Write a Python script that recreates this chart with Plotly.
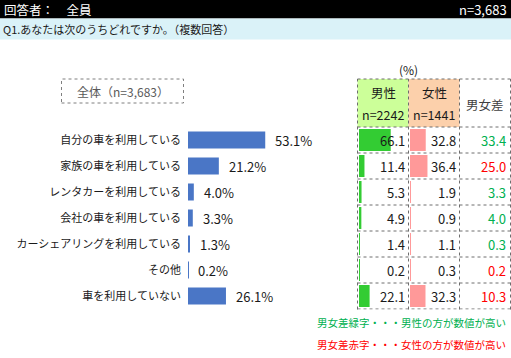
import plotly.graph_objects as go

# ---------------- data ----------------
categories = ["自分の車を利用している", "家族の車を利用している", "レンタカーを利用している",
              "会社の車を利用している", "カーシェアリングを利用している", "その他", "車を利用していない"]
total = [53.1, 21.2, 4.0, 3.3, 1.3, 0.2, 26.1]
male = [66.1, 11.4, 5.3, 4.9, 1.4, 0.2, 22.1]
female = [32.8, 36.4, 1.9, 0.9, 1.1, 0.3, 32.3]
diff = [33.4, 25.0, 3.3, 4.0, 0.3, 0.2, 10.3]
header_left = "回答者：　全員"
header_right = "n=3,683"
question = "Q1.あなたは次のうちどれですか。（複数回答）"
box_label = "全体（n=3,683）"
col_heads = ["男性", "女性", "男女差"]
col_n = ["n=2242", "n=1441"]
note_green = "男女差緑字・・・男性の方が数値が高い"
note_red = "男女差赤字・・・女性の方が数値が高い"

W, H = 511, 358
FONT = "Noto Sans CJK JP"
GREEN_TXT = "#00b050"
RED_TXT = "#ff0000"


def px(x):
    return x / W


def py(y):
    return 1 - y / H


ydom = [py(309.5), py(127)]

fig = go.Figure()
fig.add_trace(go.Bar(y=categories, x=total, orientation="h", width=0.65,
                     marker=dict(color="#4a76c6", line=dict(width=0)),
                     xaxis="x", yaxis="y", hoverinfo="skip"))
fig.add_trace(go.Bar(y=categories, x=male, orientation="h", width=0.84,
                     marker=dict(color="#33cc33", line=dict(width=0)),
                     xaxis="x2", yaxis="y", hoverinfo="skip"))
fig.add_trace(go.Bar(y=categories, x=female, orientation="h", width=0.84,
                     marker=dict(color="#ff9999", line=dict(width=0)),
                     xaxis="x3", yaxis="y", hoverinfo="skip"))

ann = []
shapes = []

# header bars
shapes.append(dict(type="rect", xref="paper", yref="paper", x0=0, x1=1, y0=py(18.5), y1=1,
                   fillcolor="#000000", line=dict(width=0), layer="below"))
shapes.append(dict(type="rect", xref="paper", yref="paper", x0=0, x1=1, y0=py(39.5), y1=py(18.5),
                   fillcolor="#daf2f8", line=dict(width=0), layer="below"))
ann.append(dict(text=header_left, x=px(2), y=py(9.5), xref="paper", yref="paper", xanchor="left",
                yanchor="middle", showarrow=False, font=dict(family=FONT, size=12.5, color="white")))
ann.append(dict(text=header_right, x=px(509), y=py(9.5), xref="paper", yref="paper", xanchor="right",
                yanchor="middle", showarrow=False, font=dict(family=FONT, size=13, color="white")))
ann.append(dict(text=question, x=px(1), y=py(29), xref="paper", yref="paper", xanchor="left",
                yanchor="middle", showarrow=False, font=dict(family=FONT, size=11, color="#1a1a1a")))

# box label
shapes.append(dict(type="rect", xref="paper", yref="paper", x0=px(61.5), x1=px(183.5), y0=py(103), y1=py(79),
                   fillcolor="white", line=dict(width=1, color="#7f7f7f", dash="dot")))
ann.append(dict(text=box_label, x=px(122.5), y=py(91), xref="paper", yref="paper", xanchor="center",
                yanchor="middle", showarrow=False, font=dict(family=FONT, size=12, color="#595959")))

# main value labels
for c, v in zip(categories, total):
    ann.append(dict(text=f"{v:.1f}%", x=v, y=c, xref="x", yref="y", xanchor="left", yanchor="middle",
                    xshift=8, showarrow=False, font=dict(family=FONT, size=13, color="#1a1a1a")))

# table
col_x = [357.5, 408.5, 459.5, 510.5]
shapes.append(dict(type="rect", xref="paper", yref="paper", x0=px(col_x[0]), x1=px(col_x[1]),
                   y0=py(127), y1=py(79), fillcolor="#ccff99", line=dict(width=0), layer="below"))
shapes.append(dict(type="rect", xref="paper", yref="paper", x0=px(col_x[1]), x1=px(col_x[2]),
                   y0=py(127), y1=py(79), fillcolor="#fcd0ab", line=dict(width=0), layer="below"))
grid = dict(width=1, color="#6e6e6e", dash="dot")
for xv in col_x:
    shapes.append(dict(type="line", xref="paper", yref="paper", x0=px(xv), x1=px(xv),
                       y0=py(309.5), y1=py(79), line=grid))
for yv in (79, 127):
    shapes.append(dict(type="line", xref="paper", yref="paper", x0=px(col_x[0]), x1=px(col_x[3]),
                       y0=py(yv), y1=py(yv), line=grid))
for i in range(len(categories)):
    shapes.append(dict(type="line", xref="paper", yref="y", x0=px(col_x[0]), x1=px(col_x[3]),
                       y0=i + 0.5, y1=i + 0.5, line=grid))

ann.append(dict(text="(%)", x=px(408.5), y=py(70), xref="paper", yref="paper", xanchor="center",
                yanchor="middle", showarrow=False, font=dict(family=FONT, size=12, color="#1a1a1a")))
centers = [(col_x[i] + col_x[i + 1]) / 2 for i in range(3)]
for i in range(2):
    ann.append(dict(text=col_heads[i], x=px(centers[i]), y=py(92), xref="paper", yref="paper",
                    xanchor="center", yanchor="middle", showarrow=False,
                    font=dict(family=FONT, size=12.5, color="#1a1a1a")))
    ann.append(dict(text=col_n[i], x=px(centers[i]), y=py(115), xref="paper", yref="paper",
                    xanchor="center", yanchor="middle", showarrow=False,
                    font=dict(family=FONT, size=12.5, color="#1a1a1a")))
ann.append(dict(text=col_heads[2], x=px(centers[2]), y=py(104), xref="paper", yref="paper",
                xanchor="center", yanchor="middle", showarrow=False,
                font=dict(family=FONT, size=12.5, color="#404040")))

for c, m, f, d in zip(categories, male, female, diff):
    ann.append(dict(text=f"{m:.1f}", x=1, y=c, xref="x2 domain", yref="y", xanchor="right",
                    yanchor="middle", xshift=0, showarrow=False,
                    font=dict(family=FONT, size=13, color="#1a1a1a")))
    ann.append(dict(text=f"{f:.1f}", x=1, y=c, xref="x3 domain", yref="y", xanchor="right",
                    yanchor="middle", xshift=0, showarrow=False,
                    font=dict(family=FONT, size=13, color="#1a1a1a")))
    ann.append(dict(text=f"{d:.1f}", x=px(508), y=c, xref="paper", yref="y", xanchor="right",
                    yanchor="middle", showarrow=False,
                    font=dict(family=FONT, size=13, color=GREEN_TXT if m > f else RED_TXT)))

ann.append(dict(text=note_green, x=px(508), y=py(322), xref="paper", yref="paper", xanchor="right",
                yanchor="middle", showarrow=False, font=dict(family=FONT, size=10.5, color=GREEN_TXT)))
ann.append(dict(text=note_red, x=px(508), y=py(344), xref="paper", yref="paper", xanchor="right",
                yanchor="middle", showarrow=False, font=dict(family=FONT, size=10.5, color=RED_TXT)))

hidden = dict(showgrid=False, zeroline=False, showticklabels=False, showline=False, ticks="")
fig.update_layout(
    width=W, height=H, margin=dict(l=0, r=0, t=0, b=0),
    paper_bgcolor="white", plot_bgcolor="rgba(0,0,0,0)",
    showlegend=False, barmode="overlay",
    font=dict(family=FONT, size=12, color="#1a1a1a"),
    xaxis=dict(domain=[px(188), px(340)], range=[0, 104.5], **hidden),
    xaxis2=dict(domain=[px(359), px(407)], range=[0, 100], anchor="y", **hidden),
    xaxis3=dict(domain=[px(410), px(458)], range=[0, 100], anchor="y", **hidden),
    yaxis=dict(domain=ydom, type="category", categoryarray=categories, categoryorder="array",
               autorange="reversed", showgrid=False, zeroline=False, showline=False, ticks="",
               ticklabelstandoff=6, tickfont=dict(family=FONT, size=11, color="#1a1a1a")),
    shapes=shapes, annotations=ann,
)
fig.write_html("out.html")
